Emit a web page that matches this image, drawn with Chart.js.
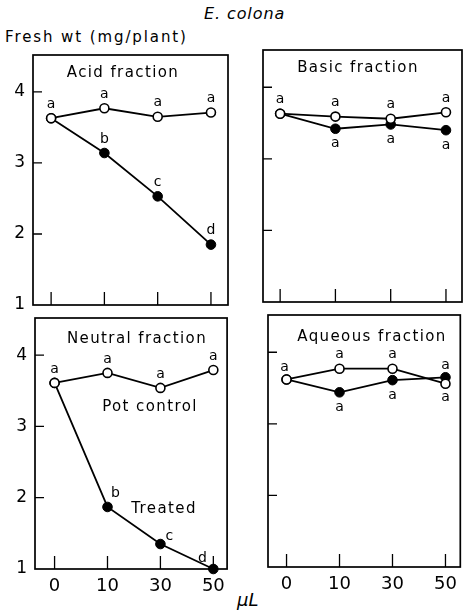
<!DOCTYPE html>
<html>
<head>
<meta charset="utf-8">
<script src="https://cdn.jsdelivr.net/npm/chart.js@4.4.1/dist/chart.umd.min.js"></script>
<style>
  body { margin: 0; background: #fff; width: 464px; height: 612px; position: relative; overflow: hidden; font-family: "DejaVu Sans", sans-serif; }
  canvas { position: absolute; }
  .txt { position: absolute; white-space: nowrap; color: #000; line-height: 1; }
</style>
</head>
<body>
<div class="txt" style="left:204px;top:6px;font-size:16px;font-style:italic;letter-spacing:0.9px">E. colona</div>
<div class="txt" style="left:5px;top:30px;font-size:15px;letter-spacing:1.9px">Fresh wt (mg/plant)</div>
<div class="txt" style="left:237px;top:591px;font-size:18px;font-style:italic">μL</div>

<canvas id="acid" width="232" height="297" style="left:0;top:30px"></canvas>
<canvas id="basic" width="232" height="270" style="left:232px;top:40px"></canvas>
<canvas id="neutral" width="232" height="319" style="left:0;top:293px"></canvas>
<canvas id="aqueous" width="232" height="302" style="left:232px;top:310px"></canvas>

<script>
// dose levels (µL) and y ticks
const doses = ['0', '10', '30', '50'];
const yTicks = [1, 2, 3, 4];

// fresh weight (mg/plant)
const acidControl = [3.63, 3.77, 3.65, 3.71];
const acidTreated = [3.63, 3.14, 2.53, 1.85];
const basicControl = [3.63, 3.59, 3.56, 3.65];
const basicTreated = [3.63, 3.42, 3.48, 3.40];
const neutralControl = [3.61, 3.75, 3.54, 3.79];
const neutralTreated = [3.61, 1.87, 1.35, 1.00];
const aqueousControl = [3.62, 3.77, 3.77, 3.56];
const aqueousTreated = [3.62, 3.44, 3.61, 3.65];

// significance letters
const acidControlLetters = ['a', 'a', 'a', 'a'];
const acidTreatedLetters = ['', 'b', 'c', 'd'];
const basicControlLetters = ['a', 'a', 'a', 'a'];
const basicTreatedLetters = ['', 'a', 'a', 'a'];
const neutralControlLetters = ['a', 'a', 'a', 'a'];
const neutralTreatedLetters = ['', 'b', 'c', 'd'];
const aqueousControlLetters = ['a', 'a', 'a', 'a'];
const aqueousTreatedLetters = ['', 'a', 'a', 'a'];

const FONT = '"DejaVu Sans", sans-serif';

const panels = [
  { id: 'acid', title: 'Acid fraction', left: 0, top: 30, tx: 123, ty: 73,
    control: acidControl, treated: acidTreated,
    controlLetters: acidControlLetters, treatedLetters: acidTreatedLetters,
    controlPlace: [[0, -14], 'up', 'up', 'up'], treatedPlace: ['up', 'up', 'up', 'up'],
    pad: { left: 0, top: 25, right: 4, bottom: 10 }, yW: 33, xH: 12, showY: true, showX: false,
    xmin: -0.34, xmax: 3.32 },
  { id: 'basic', title: 'Basic fraction', left: 232, top: 40, tx: 358, ty: 68,
    control: basicControl, treated: basicTreated,
    controlLetters: basicControlLetters, treatedLetters: basicTreatedLetters,
    controlPlace: ['up', 'up', 'up', 'up'], treatedPlace: ['down', 'down', 'down', 'down'],
    pad: { left: 31, top: 10, right: 2, bottom: 8 }, yW: 0, xH: 0, showY: false, showX: false,
    xmin: -0.31, xmax: 3.29 },
  { id: 'neutral', title: 'Neutral fraction', left: 0, top: 293, tx: 137, ty: 339,
    control: neutralControl, treated: neutralTreated,
    controlLetters: neutralControlLetters, treatedLetters: neutralTreatedLetters,
    controlPlace: ['up', 'up', 'up', 'up'], treatedPlace: ['up', [8, -14], [9, -8], [-11, -11]],
    notes: [{ text: 'Pot control', x: 150, y: 407 }, { text: 'Treated', x: 164, y: 509 }],
    pad: { left: 0, top: 25, right: 3, bottom: 13 }, yW: 35, xH: 30, showY: true, showX: true,
    xmin: -0.37, xmax: 3.26 },
  { id: 'aqueous', title: 'Aqueous fraction', left: 232, top: 310, tx: 372, ty: 337,
    control: aqueousControl, treated: aqueousTreated,
    controlLetters: aqueousControlLetters, treatedLetters: aqueousTreatedLetters,
    controlPlace: [[-2, -12], 'up', 'up', [0, 14]], treatedPlace: ['down', 'down', 'down', [0, -12]],
    pad: { left: 36, top: 5, right: 1, bottom: 15 }, yW: 0, xH: 30, showY: false, showX: true,
    xmin: -0.35, xmax: 3.28 }
];

const panelDecor = {
  id: 'panelDecor',
  afterDatasetsDraw(chart, args, opts) {
    const p = opts.panel;
    const { ctx, chartArea: a, scales: { x, y } } = chart;
    ctx.save();
    ctx.strokeStyle = '#000';
    ctx.lineWidth = 1.7;
    ctx.strokeRect(a.left, a.top, a.right - a.left, a.bottom - a.top);

    // inward tick marks
    ctx.lineWidth = 1.3;
    ctx.beginPath();
    yTicks.slice(1).forEach(v => {
      const py = y.getPixelForValue(v);
      ctx.moveTo(a.left, py);
      ctx.lineTo(a.left + 9, py);
    });
    doses.forEach((d, i) => {
      const px = x.getPixelForValue(i);
      ctx.moveTo(px, a.bottom);
      ctx.lineTo(px, a.bottom - 13);
    });
    ctx.stroke();

    ctx.fillStyle = '#000';
    ctx.textAlign = 'center';
    ctx.textBaseline = 'middle';

    // letters
    ctx.font = '14px ' + FONT;
    [[p.control, p.controlLetters, p.controlPlace], [p.treated, p.treatedLetters, p.treatedPlace]].forEach(([vals, letters, place]) => {
      letters.forEach((t, i) => {
        if (!t) return;
        const off = place[i] === 'up' ? [0, -14] : place[i] === 'down' ? [0, 15] : place[i];
        ctx.fillText(t, x.getPixelForValue(i) + off[0], y.getPixelForValue(vals[i]) + off[1]);
      });
    });

    // panel title and notes
    ctx.font = '15px ' + FONT;
    ctx.letterSpacing = '1.4px';
    ctx.fillText(p.title, p.tx - p.left, p.ty - p.top);
    (p.notes || []).forEach(n => ctx.fillText(n.text, n.x - p.left, n.y - p.top));
    ctx.restore();
  }
};

panels.forEach(p => {
  new Chart(document.getElementById(p.id), {
    type: 'line',
    data: {
      datasets: [
        { label: 'Pot control', data: p.control.map((v, i) => ({ x: i, y: v })),
          borderColor: '#000', borderWidth: 1.8, pointRadius: 4.5, pointBorderWidth: 1.6,
          pointBackgroundColor: '#fff', pointBorderColor: '#000', clip: 10 },
        { label: 'Treated', data: p.treated.map((v, i) => ({ x: i, y: v })),
          borderColor: '#000', borderWidth: 1.8, pointRadius: 4.8, pointBorderWidth: 1,
          pointBackgroundColor: '#000', pointBorderColor: '#000', clip: 10 }
      ]
    },
    options: {
      responsive: false,
      animation: false,
      layout: { padding: p.pad, autoPadding: false },
      plugins: { legend: { display: false }, tooltip: { enabled: false }, panelDecor: { panel: p } },
      scales: {
        x: {
          type: 'linear', min: p.xmin, max: p.xmax,
          afterBuildTicks: s => { s.ticks = doses.map((d, i) => ({ value: i })); },
          afterFit: s => { s.height = p.xH; },
          grid: { display: false, drawTicks: false },
          border: { display: false },
          ticks: { display: p.showX, padding: 7, color: '#000', font: { family: FONT, size: 18 },
                   callback: v => doses[v] },
        },
        y: {
          min: 1, max: 4.52,
          afterBuildTicks: s => { s.ticks = yTicks.map(v => ({ value: v })); },
          afterFit: s => { s.width = p.yW; },
          grid: { display: false, drawTicks: false },
          border: { display: false },
          ticks: { display: p.showY, padding: 8, color: '#000', font: { family: FONT, size: 17 } }
        }
      }
    },
    plugins: [panelDecor]
  });
});
</script>
</body>
</html>
